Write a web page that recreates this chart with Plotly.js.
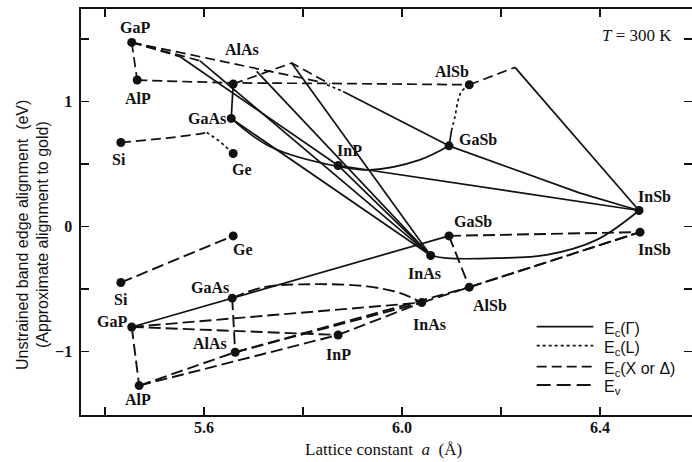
<!DOCTYPE html>
<html><head><meta charset="utf-8">
<script src="https://cdn.plot.ly/plotly-3.0.1.min.js"></script>
<style>html,body{margin:0;padding:0;background:#fff;overflow:hidden}</style>
</head><body><div id="chart" style="width:692px;height:462px"></div>
<script>
// ---- binary compound points ----
const ecNames   = ['GaP','AlP','AlAs','GaAs','Si','Ge','InP','AlSb','GaSb','InSb','InAs'];
const ecLattice = [5.454,5.465,5.659,5.655,5.432,5.659,5.871,6.136,6.095,6.479,6.058];
const ecEnergy  = [1.473,1.172,1.140,0.865,0.673,0.585,0.489,1.134,0.646,0.129,-0.231];
const evNames   = ['GaP','AlP','AlAs','GaAs','Si','Ge','InP','AlSb','GaSb','InSb','InAs'];
const evLattice = [5.454,5.469,5.663,5.657,5.432,5.659,5.871,6.136,6.095,6.481,6.040];
const evEnergy  = [-0.802,-1.271,-1.004,-0.572,-0.447,-0.074,-0.866,-0.484,-0.074,-0.044,-0.607];

// ---- Ec(Gamma) curves (solid) ----
const g1x=[5.552,5.871], g1y=[1.358,0.489];
const g2x=[5.592,6.058], g2y=[1.326,-0.231];
const g3x=[5.7065,6.058], g3y=[1.241,-0.231];
const g4x=[5.777,6.058], g4y=[1.308,-0.231];
const g5x=[5.659,5.655], g5y=[1.140,0.865];
const g6x=[5.655,6.058], g6y=[0.865,-0.231];
const g7x=[5.655,5.733,5.871,5.935,6.036,6.095], g7y=[0.865,0.641,0.481,0.454,0.534,0.646];
const g8x=[5.871,6.058], g8y=[0.489,-0.231];
const g9x=[5.871,6.479], g9y=[0.489,0.129];
const g10x=[5.881,6.095], g10y=[1.081,0.646];
const g11x=[6.1004,6.095], g11y=[0.774,0.646];
const g12x=[6.095,6.36,6.479], g12y=[0.646,0.268,0.129];
const g13x=[6.058,6.0903,6.1913,6.2923,6.3933,6.479], g13y=[-0.231,-0.252,-0.252,-0.226,-0.106,0.129];
const g14x=[6.2283,6.479], g14y=[1.273,0.129];

// ---- Ec(L) curves (dotted) ----
const l1x=[5.8485,5.881], l1y=[1.134,1.081];
const l2x=[6.136,6.1205,6.1138,6.1071,6.1004], l2y=[1.134,1.081,1.014,0.88,0.774];
const l3x=[5.6055,5.6323,5.659], l3y=[0.753,0.681,0.585];

// ---- Ec(X or Delta) curves (dashed) ----
const x1x=[5.454,5.465], x1y=[1.473,1.172];
const x2x=[5.465,5.659,5.85,6.136], x2y=[1.172,1.15,1.145,1.134];
const x3x=[5.454,5.834], x3y=[1.473,1.158];
const x4x=[5.454,5.552], x4y=[1.473,1.358];
const x5x=[5.454,5.592], x5y=[1.473,1.326];
const x6x=[5.659,5.777,5.855], x6y=[1.140,1.308,1.14];
const x7x=[6.136,6.2283], x7y=[1.134,1.273];
const x8x=[5.432,5.5246,5.5919,5.6055], x8y=[0.673,0.708,0.742,0.753];

// ---- Ev curves ----
const vSx=[5.454,5.657,6.095], vSy=[-0.802,-0.572,-0.074];
const v1x=[5.432,5.659], v1y=[-0.447,-0.074];
const v2x=[5.657,5.72,5.82,5.93,5.995,6.040], v2y=[-0.572,-0.485,-0.46,-0.478,-0.53,-0.607];
const v3x=[5.454,5.871], v3y=[-0.802,-0.866];
const v4x=[5.454,6.040], v4y=[-0.802,-0.607];
const v5x=[5.657,5.663], v5y=[-0.572,-1.004];
const v6x=[5.454,5.469], v6y=[-0.802,-1.271];
const v7x=[5.469,5.663], v7y=[-1.271,-1.004];
const v8x=[5.663,6.040], v8y=[-1.004,-0.607];
const v9x=[5.663,6.136], v9y=[-1.004,-0.484];
const v10x=[5.871,6.040], v10y=[-0.866,-0.607];
const v11x=[5.469,5.871], v11y=[-1.271,-0.866];
const v12x=[6.040,6.481], v12y=[-0.607,-0.044];
const v13x=[6.136,6.481], v13y=[-0.484,-0.044];
const v14x=[6.095,6.481], v14y=[-0.074,-0.044];
const v15x=[6.095,6.136], v15y=[-0.074,-0.484];

// ---- labels ----
const labelText = ['GaP','AlAs','AlP','GaAs','Si','Ge','InP','AlSb','GaSb','InSb',
                   'Ge','Si','GaAs','GaP','AlAs','InP','AlP','GaSb','InSb','InAs','AlSb','InAs'];
const labelX = [5.4606,5.6762,5.4673,5.6055,5.4289,5.6762,5.8949,6.1004,6.1541,6.5111,
                5.6794,5.4317,5.6121,5.4135,5.6121,5.8713,5.4673,6.144,6.5111,6.0465,6.1778,6.0566];
const labelY = [1.596,1.414,1.028,0.868,0.54,0.454,0.609,1.241,0.694,0.241,
                -0.186,-0.586,-0.484,-0.759,-0.932,-1.026,-1.386,0.041,-0.186,-0.378,-0.634,-0.786];

const legendNames = ['E<sub>c</sub>(Γ)','E<sub>c</sub>(L)','E<sub>c</sub>(X or Δ)','E<sub>v</sub>'];
const legendStyle = ['solid','dot','dashX','dashVL'];

const styles = {
  solid:{color:'#111',width:1.7,dash:'solid'},
  dot:{color:'#111',width:1.7,dash:'dot'},
  dashX:{color:'#111',width:1.7,dash:'10px,5px'},
  dashV:{color:'#111',width:1.9,dash:'12px,5px'},
  dashVL:{color:'#111',width:2.2,dash:'14px,6px'}
};
const curves = [
  [g1x,g1y,'solid'],[g2x,g2y,'solid'],[g3x,g3y,'solid'],[g4x,g4y,'solid'],[g5x,g5y,'solid'],
  [g6x,g6y,'solid'],[g7x,g7y,'solid'],[g8x,g8y,'solid'],[g9x,g9y,'solid'],[g10x,g10y,'solid'],
  [g11x,g11y,'solid'],[g12x,g12y,'solid'],[g13x,g13y,'solid'],[g14x,g14y,'solid'],
  [l1x,l1y,'dot'],[l2x,l2y,'dot'],[l3x,l3y,'dot'],
  [x1x,x1y,'dashX'],[x2x,x2y,'dashX'],[x3x,x3y,'dashX'],[x4x,x4y,'dashX'],[x5x,x5y,'dashX'],
  [x6x,x6y,'dashX'],[x7x,x7y,'dashX'],[x8x,x8y,'dashX'],
  [vSx,vSy,'solid'],[v1x,v1y,'dashV'],[v2x,v2y,'dashV'],[v3x,v3y,'dashV'],[v4x,v4y,'dashV'],
  [v5x,v5y,'dashV'],[v6x,v6y,'dashV'],[v7x,v7y,'dashV'],[v8x,v8y,'dashV'],[v9x,v9y,'dashV'],
  [v10x,v10y,'dashV'],[v11x,v11y,'dashV'],[v12x,v12y,'dashV'],[v13x,v13y,'dashV'],
  [v14x,v14y,'dashV'],[v15x,v15y,'dashV']
];
const traces = curves.map(c => ({x:c[0], y:c[1], mode:'lines', type:'scatter', hoverinfo:'skip',
    line:Object.assign({shape: c[0].length>3 ? 'spline':'linear'}, styles[c[2]]), showlegend:false}));
traces.push({x:ecLattice,y:ecEnergy,text:ecNames,mode:'markers',type:'scatter',showlegend:false,
  marker:{color:'#111',size:9}});
traces.push({x:evLattice,y:evEnergy,text:evNames,mode:'markers',type:'scatter',showlegend:false,
  marker:{color:'#111',size:9}});

const serif = 'Liberation Serif, Times New Roman, serif';
const sans = 'Liberation Sans, Arial, sans-serif';
const annotations = labelText.map((t,i)=>({x:labelX[i],y:labelY[i],text:'<b>'+t+'</b>',showarrow:false,
  xanchor:'center',yanchor:'middle',font:{family:serif,size:16,color:'#111'}}));
annotations.push({x:6.4741,y:1.526,text:'<i>T</i> = 300 K',showarrow:false,xanchor:'center',yanchor:'middle',
  font:{family:serif,size:17,color:'#111'}});
annotations.push({xref:'paper',yref:'paper',x:0,y:0.4433,xshift:-59,xanchor:'center',yanchor:'middle',
  text:'Unstrained band edge alignment  (eV)',textangle:-90,showarrow:false,font:{family:sans,size:16,color:'#111'}});
annotations.push({xref:'paper',yref:'paper',x:0,y:0.4433,xshift:-39,xanchor:'center',yanchor:'middle',
  text:'(Approximate alignment to gold)',textangle:-90,showarrow:false,font:{family:sans,size:16,color:'#111'}});
annotations.push({xref:'paper',yref:'paper',x:0.4959,y:0,yshift:-34,xanchor:'center',yanchor:'middle',
  text:'Lattice constant  <i>a</i>  (Å)',showarrow:false,font:{family:serif,size:17,color:'#111'}});

// manual legend (paper coordinates)
const legRowY = [0.2175,0.1707,0.119,0.0739];
const shapes = [];
legendNames.forEach((n,i)=>{
  const st = styles[legendStyle[i]];
  shapes.push({type:'line',xref:'paper',yref:'paper',x0:0.7458,x1:0.8385,y0:legRowY[i],y1:legRowY[i],
    line:{color:st.color,width:st.width,dash:st.dash}});
  annotations.push({xref:'paper',yref:'paper',x:0.8522,y:legRowY[i],yshift:-3,xanchor:'left',yanchor:'middle',
    text:n,showarrow:false,font:{family:sans,size:16,color:'#111'}});
});

const axisCommon = {showline:true,linewidth:1.6,linecolor:'#111',mirror:'ticks',ticks:'inside',
  ticklen:8,tickwidth:1.5,tickcolor:'#111',showgrid:false,zeroline:false,automargin:false,
  tickfont:{family:serif,size:16,color:'#111',weight:'bold'}};
const layout = {
  width:692,height:462,margin:{l:81,r:0,t:9,b:47,autoexpand:false},paper_bgcolor:'#fff',plot_bgcolor:'#fff',
  xaxis:Object.assign({range:[5.3515,6.586],tickvals:[5.4,5.6,5.8,6.0,6.2,6.4],
    ticktext:['','5.6','','6.0','','6.4'],ticklabelstandoff:-3},axisCommon),
  yaxis:Object.assign({range:[-1.506,1.74],tickvals:[-1.5,-1,-0.5,0,0.5,1,1.5],
    ticktext:['','−1','','0','','1',''],ticklabelstandoff:4},axisCommon),
  showlegend:false,
  annotations:annotations,
  shapes:shapes
};
Plotly.newPlot('chart',traces,layout,{staticPlot:true});
</script></body></html>
